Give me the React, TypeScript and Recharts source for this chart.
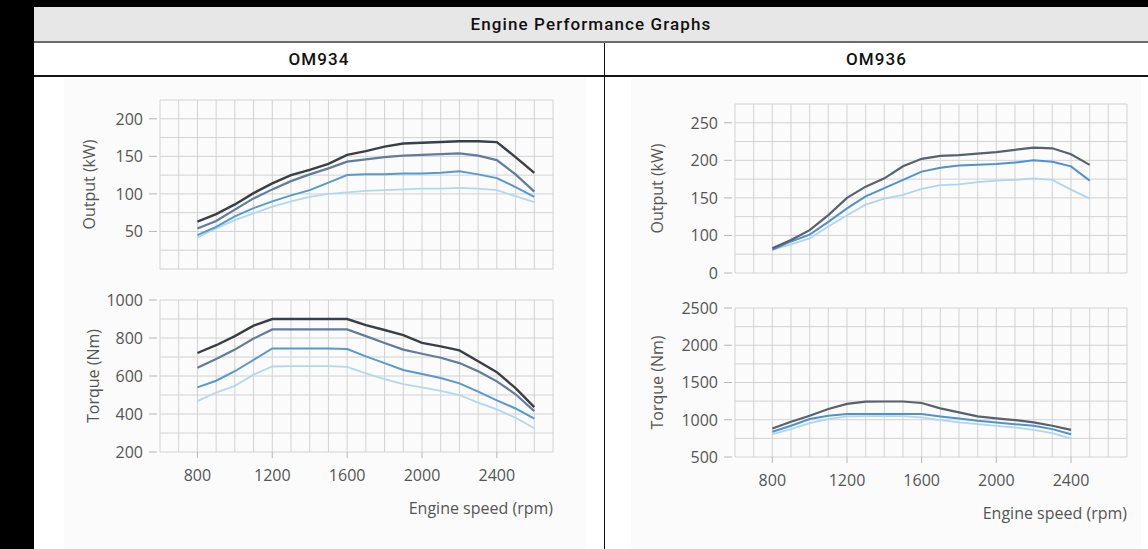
import React from "react";
import { LineChart, Line, XAxis, YAxis, CartesianGrid } from "recharts";

// ---------- data ----------
const RPM_OM934 = [800, 900, 1000, 1100, 1200, 1300, 1400, 1500, 1600, 1700, 1800, 1900, 2000, 2100, 2200, 2300, 2400, 2500, 2600];
const OM934_OUTPUT_1 = [63, 73, 86, 101, 114, 125, 132, 140, 152, 157, 163, 167, 168, 169, 170, 170, 169, 149, 128];
const OM934_OUTPUT_2 = [54, 64, 79, 94, 106, 117, 126, 134, 143, 146, 149, 151, 152, 153, 154, 151, 145, 126, 103];
const OM934_OUTPUT_3 = [45, 56, 70, 81, 90, 98, 105, 115, 125, 126, 126, 127, 127, 128, 130, 126, 121, 109, 96];
const OM934_OUTPUT_4 = [42, 54, 65, 74, 83, 90, 96, 100, 102, 104, 105, 106, 107, 107, 108, 107, 105, 97, 89];
const OM934_TORQUE_1 = [721, 762, 810, 865, 900, 900, 900, 900, 900, 868, 842, 815, 774, 756, 735, 678, 620, 536, 436];
const OM934_TORQUE_2 = [643, 690, 739, 797, 845, 845, 845, 845, 845, 810, 774, 739, 717, 696, 668, 625, 572, 504, 415];
const OM934_TORQUE_3 = [540, 575, 625, 685, 745, 745, 745, 745, 742, 703, 668, 632, 611, 589, 561, 518, 472, 429, 376];
const OM934_TORQUE_4 = [468, 513, 548, 607, 650, 652, 652, 652, 648, 614, 584, 557, 540, 522, 500, 460, 424, 380, 325];

const RPM_OM936_OUTPUT = [800, 900, 1000, 1100, 1200, 1300, 1400, 1500, 1600, 1700, 1800, 1900, 2000, 2100, 2200, 2300, 2400, 2500];
const OM936_OUTPUT_1 = [83, 94, 107, 127, 150, 165, 176, 192, 202, 206, 207, 209, 211, 214, 217, 216, 208, 194];
const OM936_OUTPUT_2 = [81, 92, 101, 118, 136, 152, 163, 174, 185, 190, 193, 194, 195, 197, 200, 198, 192, 173];
const OM936_OUTPUT_3 = [81, 88, 96, 112, 127, 141, 149, 154, 162, 167, 168, 171, 173, 174, 176, 174, 161, 149];

const RPM_OM936_TORQUE = [800, 900, 1000, 1100, 1200, 1300, 1400, 1500, 1600, 1700, 1800, 1900, 2000, 2100, 2200, 2300, 2400];
const OM936_TORQUE_1 = [883, 973, 1054, 1144, 1212, 1243, 1245, 1245, 1225, 1153, 1099, 1045, 1018, 996, 964, 919, 865];
const OM936_TORQUE_2 = [838, 919, 1009, 1054, 1077, 1077, 1077, 1077, 1077, 1045, 1018, 986, 964, 941, 919, 874, 806];
const OM936_TORQUE_3 = [806, 874, 955, 1009, 1045, 1048, 1048, 1048, 1031, 996, 964, 941, 919, 896, 865, 820, 748];

// ---------- ticks ----------
const RPM_DOMAIN = [600, 2700];
const RPM_GRID_TICKS = [600, 700, 800, 900, 1000, 1100, 1200, 1300, 1400, 1500, 1600, 1700, 1800, 1900, 2000, 2100, 2200, 2300, 2400, 2500, 2600, 2700];
const RPM_LABEL_TICKS = [800, 1200, 1600, 2000, 2400];
const RPM_LABELS = ["800", "1200", "1600", "2000", "2400"];

const OM934_OUTPUT_DOMAIN = [0, 225];
const OM934_OUTPUT_GRID = [0, 25, 50, 75, 100, 125, 150, 175, 200, 225];
const OM934_OUTPUT_TICKS = [50, 100, 150, 200];
const OM934_OUTPUT_LABELS = ["50", "100", "150", "200"];

const OM934_TORQUE_DOMAIN = [200, 1000];
const OM934_TORQUE_GRID = [200, 300, 400, 500, 600, 700, 800, 900, 1000];
const OM934_TORQUE_TICKS = [200, 400, 600, 800, 1000];
const OM934_TORQUE_LABELS = ["200", "400", "600", "800", "1000"];

const OM936_OUTPUT_DOMAIN = [50, 275];
const OM936_OUTPUT_GRID = [50, 75, 100, 125, 150, 175, 200, 225, 250, 275];
const OM936_OUTPUT_TICKS = [50, 100, 150, 200, 250];
const OM936_OUTPUT_LABELS = ["0", "100", "150", "200", "250"];

const OM936_TORQUE_DOMAIN = [500, 2500];
const OM936_TORQUE_GRID = [500, 750, 1000, 1250, 1500, 1750, 2000, 2250, 2500];
const OM936_TORQUE_TICKS = [500, 1000, 1500, 2000, 2500];
const OM936_TORQUE_LABELS = ["500", "1000", "1500", "2000", "2500"];

const COLORS_4 = ["#3a3e45", "#637c9e", "#5699d3", "#b0d8f2"];
const WIDTHS_4 = [2.4, 2.2, 2, 1.8];
const COLORS_3 = ["#58616e", "#4f92d0", "#afd6f1"];
const WIDTHS_3 = [2.2, 2, 1.8];

const FONT = "'Open Sans', sans-serif";
const TEXT_COLOR = "#555";

function buildRows(rpm: number[], series: number[][]) {
  return rpm.map((r, i) => {
    const row: any = { rpm: r };
    series.forEach((s, k) => (row["s" + k] = s[i]));
    return row;
  });
}

const makeYTick = (ticks: number[], labels: string[]) => (props: any) => {
  const { x, y, payload } = props;
  const idx = ticks.indexOf(payload.value);
  if (idx < 0) return <g />;
  return (
    <g>
      <line x1={x - 11} x2={x - 3} y1={y} y2={y} stroke="#b5b5b5" strokeWidth={1} />
      <text x={x - 17} y={y} dy="0.36em" textAnchor="end" fill={TEXT_COLOR} fontSize={16} fontFamily={FONT}>
        {labels[idx]}
      </text>
    </g>
  );
};

const makeXTick = (ticks: number[], labels: string[]) => (props: any) => {
  const { x, y, payload } = props;
  const idx = ticks.indexOf(payload.value);
  if (idx < 0) return <g />;
  return (
    <g>
      <line x1={x} x2={x} y1={y} y2={y + 6} stroke="#b5b5b5" strokeWidth={1} />
      <text x={x} y={y + 23} dy="0.36em" textAnchor="middle" fill={TEXT_COLOR} fontSize={16} fontFamily={FONT}>
        {labels[idx]}
      </text>
    </g>
  );
};

type ChartProps = {
  left: number;
  top: number;
  width: number;
  height: number;
  rows: any[];
  colors: string[];
  widths: number[];
  yDomain: number[];
  yGrid: number[];
  yTicks: number[];
  yLabels: string[];
  yTitle: string;
  yTitleOffset: number;
  showX: boolean;
};

function EngineChart(p: ChartProps) {
  const yTitle = (lp: any) => {
    const vb = lp.viewBox || {};
    const cx = vb.x + vb.width + p.yTitleOffset;
    const cy = vb.y + vb.height / 2;
    return (
      <text
        x={cx}
        y={cy}
        dy="0.36em"
        textAnchor="middle"
        transform={`rotate(-90 ${cx} ${cy})`}
        fill={TEXT_COLOR}
        fontSize={16}
        fontFamily={FONT}
      >
        {p.yTitle}
      </text>
    );
  };
  const xTitle = (lp: any) => {
    const vb = lp.viewBox || {};
    return (
      <text x={vb.x + vb.width} y={vb.y + 56} dy="0.36em" textAnchor="end" fill={TEXT_COLOR} fontSize={16} fontFamily={FONT}>
        Engine speed (rpm)
      </text>
    );
  };
  return (
    <div style={{ position: "absolute", left: p.left, top: p.top }}>
      <LineChart
        width={p.width}
        height={p.height}
        data={p.rows}
        margin={{ top: 10, right: 7, bottom: p.showX ? 0 : 11, left: 0 }}
      >
        <CartesianGrid stroke="#d2d2d2" strokeWidth={1} />
        {p.showX ? (
          <XAxis
            type="number"
            dataKey="rpm"
            domain={RPM_DOMAIN}
            ticks={RPM_GRID_TICKS}
            interval={0}
            allowDataOverflow
            height={70}
            axisLine={false}
            tickLine={false}
            tickSize={0}
            tickMargin={0}
            tick={makeXTick(RPM_LABEL_TICKS, RPM_LABELS)}
            label={xTitle}
          />
        ) : (
          <XAxis
            type="number"
            dataKey="rpm"
            domain={RPM_DOMAIN}
            ticks={RPM_GRID_TICKS}
            interval={0}
            allowDataOverflow
            hide
          />
        )}
        <YAxis
          type="number"
          domain={p.yDomain}
          ticks={p.yGrid}
          interval={0}
          allowDataOverflow
          width={100}
          axisLine={false}
          tickLine={false}
          tickSize={0}
          tickMargin={0}
          tick={makeYTick(p.yTicks, p.yLabels)}
          label={yTitle}
        />
        {p.colors.map((c, k) => (
          <Line
            key={k}
            type="linear"
            dataKey={"s" + k}
            stroke={c}
            strokeWidth={p.widths[k]}
            dot={false}
            activeDot={false}
            isAnimationActive={false}
          />
        ))}
      </LineChart>
    </div>
  );
}

export default function App() {
  const om934Output = buildRows(RPM_OM934, [OM934_OUTPUT_4, OM934_OUTPUT_3, OM934_OUTPUT_2, OM934_OUTPUT_1]);
  const om934Torque = buildRows(RPM_OM934, [OM934_TORQUE_4, OM934_TORQUE_3, OM934_TORQUE_2, OM934_TORQUE_1]);
  const om936Output = buildRows(RPM_OM936_OUTPUT, [OM936_OUTPUT_3, OM936_OUTPUT_2, OM936_OUTPUT_1]);
  const om936Torque = buildRows(RPM_OM936_TORQUE, [OM936_TORQUE_3, OM936_TORQUE_2, OM936_TORQUE_1]);
  const c4 = [...COLORS_4].reverse();
  const w4 = [...WIDTHS_4].reverse();
  const c3 = [...COLORS_3].reverse();
  const w3 = [...WIDTHS_3].reverse();

  const headFont: React.CSSProperties = {
    fontFamily: "Roboto, sans-serif",
    fontWeight: 500,
    fontSize: 17,
    letterSpacing: 1.1,
    color: "#111",
    position: "absolute",
    textAlign: "center",
  };

  return (
    <div style={{ position: "absolute", left: 0, top: 0, width: 1148, height: 549, background: "#000", overflow: "hidden" }}>
      <div style={{ position: "absolute", left: 34, top: 7, width: 1114, height: 542, background: "#fff" }}>
        {/* header row */}
        <div style={{ position: "absolute", left: 0, top: 0, width: 1114, height: 34, background: "#e7e7e7" }} />
        <div style={{ position: "absolute", left: 0, top: 34, width: 1114, height: 2, background: "#6b6b6b" }} />
        <div style={{ ...headFont, left: 0, top: 0, width: 1114, height: 34, lineHeight: "35px" }}>Engine Performance Graphs</div>
        {/* model row */}
        <div style={{ ...headFont, left: 0, top: 36, width: 570, height: 32, lineHeight: "33px" }}>OM934</div>
        <div style={{ ...headFont, left: 571, top: 36, width: 543, height: 32, lineHeight: "33px" }}>OM936</div>
        <div style={{ position: "absolute", left: 0, top: 68, width: 1114, height: 2, background: "#151515" }} />
        <div style={{ position: "absolute", left: 570, top: 36, width: 1, height: 506, background: "#111" }} />
        {/* photo backgrounds */}
        <div style={{ position: "absolute", left: 30, top: 71, width: 522, height: 471, background: "#fbfbfb" }} />
        <div style={{ position: "absolute", left: 597, top: 71, width: 510, height: 471, background: "#fbfbfb" }} />
      </div>

      <EngineChart
        left={60}
        top={90}
        width={500}
        height={190}
        rows={om934Output}
        colors={c4}
        widths={w4}
        yDomain={OM934_OUTPUT_DOMAIN}
        yGrid={OM934_OUTPUT_GRID}
        yTicks={OM934_OUTPUT_TICKS}
        yLabels={OM934_OUTPUT_LABELS}
        yTitle="Output (kW)"
        yTitleOffset={-71}
        showX={false}
      />
      <EngineChart
        left={60}
        top={290}
        width={500}
        height={232}
        rows={om934Torque}
        colors={c4}
        widths={w4}
        yDomain={OM934_TORQUE_DOMAIN}
        yGrid={OM934_TORQUE_GRID}
        yTicks={OM934_TORQUE_TICKS}
        yLabels={OM934_TORQUE_LABELS}
        yTitle="Torque (Nm)"
        yTitleOffset={-67}
        showX={true}
      />
      <EngineChart
        left={635}
        top={94}
        width={499}
        height={190}
        rows={om936Output}
        colors={c3}
        widths={w3}
        yDomain={OM936_OUTPUT_DOMAIN}
        yGrid={OM936_OUTPUT_GRID}
        yTicks={OM936_OUTPUT_TICKS}
        yLabels={OM936_OUTPUT_LABELS}
        yTitle="Output (kW)"
        yTitleOffset={-78}
        showX={false}
      />
      <EngineChart
        left={635}
        top={298}
        width={499}
        height={229}
        rows={om936Torque}
        colors={c3}
        widths={w3}
        yDomain={OM936_TORQUE_DOMAIN}
        yGrid={OM936_TORQUE_GRID}
        yTicks={OM936_TORQUE_TICKS}
        yLabels={OM936_TORQUE_LABELS}
        yTitle="Torque (Nm)"
        yTitleOffset={-78}
        showX={true}
      />
    </div>
  );
}
